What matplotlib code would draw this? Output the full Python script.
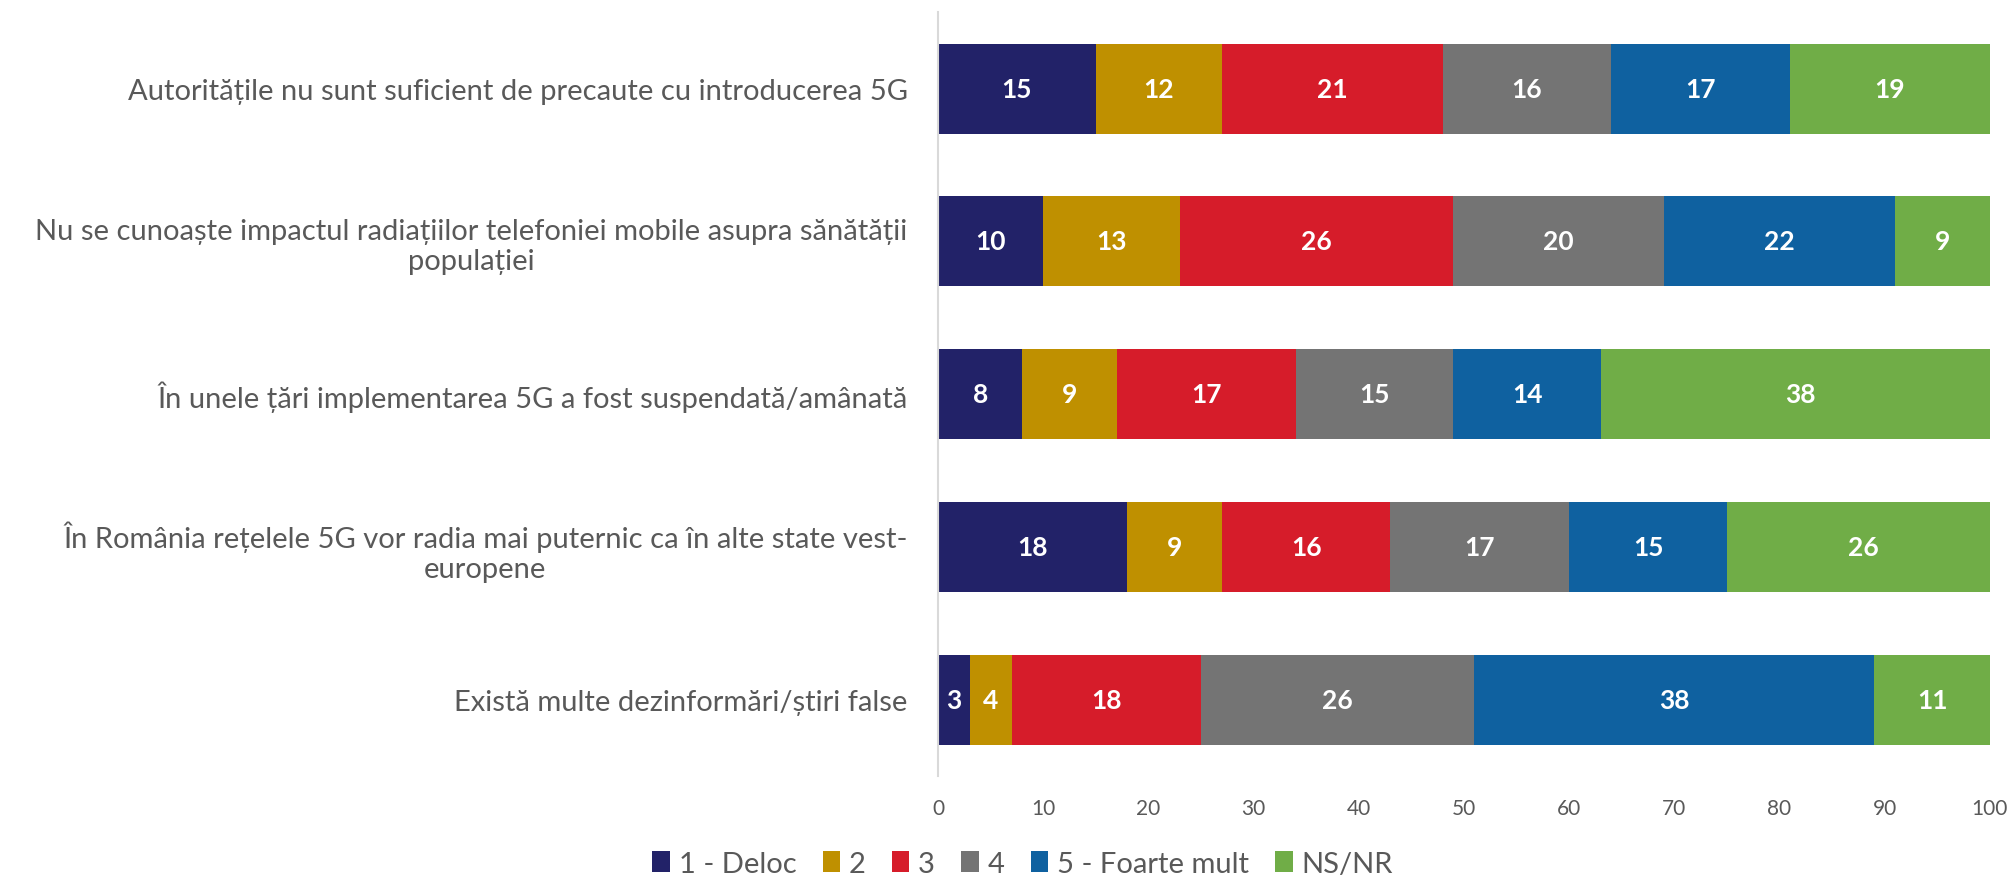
import matplotlib
matplotlib.use("Agg")
import matplotlib.pyplot as plt
import numpy as np

plt.rcParams['font.family'] = ['Lato', 'DejaVu Sans']

categories = [
    "Autoritățile nu sunt suficient de precaute cu introducerea 5G",
    "Nu se cunoaște impactul radiațiilor telefoniei mobile asupra sănătății\npopulației",
    "În unele țări implementarea 5G a fost suspendată/amânată",
    "În România rețelele 5G vor radia mai puternic ca în alte state vest-\neuropene",
    "Există multe dezinformări/știri false",
]
series_names = ["1 - Deloc", "2", "3", "4", "5 - Foarte mult", "NS/NR"]
values = {
    "1 - Deloc":       [15, 10, 8, 18, 3],
    "2":               [12, 13, 9, 9, 4],
    "3":               [21, 26, 17, 16, 18],
    "4":               [16, 20, 15, 17, 26],
    "5 - Foarte mult": [17, 22, 14, 15, 38],
    "NS/NR":           [19, 9, 38, 26, 11],
}
colors = ["#222268", "#BF9000", "#D61C2A", "#747474", "#0F61A0", "#70AD47"]
xticks = [0, 10, 20, 30, 40, 50, 60, 70, 80, 90, 100]

fig = plt.figure(figsize=(20.13, 8.79), dpi=100)
ax = fig.add_axes([0.466, 0.116, 0.5225, 0.869])

y = np.arange(len(categories))
left = np.zeros(len(categories))
for name, col in zip(series_names, colors):
    vals = np.array(values[name], dtype=float)
    bars = ax.barh(y, vals, left=left, height=0.59, color=col, label=name)
    for yi, (l, v) in enumerate(zip(left, vals)):
        ax.text(l + v / 2, yi, f"{int(v)}", ha='center', va='center',
                color='white', fontsize=19, fontweight='bold')
    left += vals

ax.set_ylim(len(categories) - 0.5, -0.5)
ax.set_xlim(0, 100)
ax.set_yticks(y)
ax.set_yticklabels(categories, fontsize=21, color='#595959', multialignment='center')
ax.set_xticks(xticks)
ax.set_xticklabels([str(t) for t in xticks], fontsize=15, color='#595959')
ax.tick_params(axis='both', length=0)
ax.tick_params(axis='y', pad=22)
ax.tick_params(axis='x', pad=16)
for s in ['top', 'right', 'bottom']:
    ax.spines[s].set_visible(False)
ax.spines['left'].set_color('#D9D9D9')
ax.spines['left'].set_linewidth(1.5)

leg = fig.legend(loc='center', bbox_to_anchor=(0.508, 0.016), ncol=6, frameon=False,
                 fontsize=21, handlelength=0.6, handleheight=0.75, handletextpad=0.3,
                 columnspacing=0.9, borderpad=0)
for t in leg.get_texts():
    t.set_color('#595959')

fig.savefig("out.png", dpi=100)
